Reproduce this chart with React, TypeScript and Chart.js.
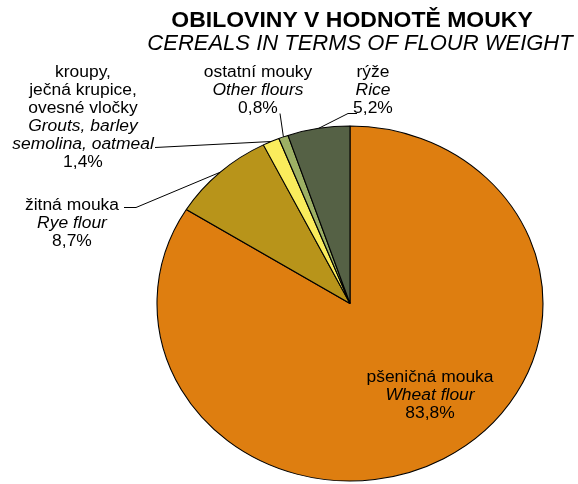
import React, { useEffect, useRef } from 'react';
import { Chart, registerables } from 'chart.js';

Chart.register(...registerables);

// ---- data ----
const titleCz = 'OBILOVINY V HODNOTĚ MOUKY';
const titleEn = 'CEREALS IN TERMS OF FLOUR WEIGHT';
const categoriesCz: string[][] = [
  ['pšeničná mouka'],
  ['žitná mouka'],
  ['kroupy,', 'ječná krupice,', 'ovesné vločky'],
  ['ostatní mouky'],
  ['rýže'],
];
const categoriesEn: string[][] = [
  ['Wheat flour'],
  ['Rye flour'],
  ['Grouts, barley', 'semolina, oatmeal'],
  ['Other flours'],
  ['Rice'],
];
const shares: number[] = [83.8, 8.7, 1.4, 0.8, 5.2];

// ---- styles / layout ----
const sliceColors = ['#DE7E10', '#B8941A', '#FAEC5C', '#9DB064', '#556145'];
const PIE_SX = 193 / 177.5; // horizontal stretch of the pie (ellipse)
const TEXT_SX = 1.09;
const LINE_H = 18;
const labelAnchors = [
  { x: 430, y: 378 },
  { x: 72, y: 206 },
  { x: 83, y: 73 },
  { x: 258, y: 73 },
  { x: 373, y: 73 },
];
const leaderStarts: ([number, number][] | null)[] = [
  null,
  [[124, 207], [136, 207]],
  [[155, 147]],
  [[280, 113]],
  [[357, 113], [348, 113]],
];

const fmt = (v: number) => v.toFixed(1).replace('.', ',') + '%';

function drawStretched(ctx: CanvasRenderingContext2D, text: string, x: number, y: number, sx: number) {
  ctx.save();
  ctx.translate(x, y);
  ctx.scale(sx, 1);
  ctx.fillText(text, 0, 0);
  ctx.restore();
}

const ellipsePlugin = {
  id: 'ellipsePie',
  beforeDatasetsDraw(chart: any) {
    const meta = chart.getDatasetMeta(0);
    const cx = meta.data[0].x;
    const ctx = chart.ctx;
    ctx.save();
    ctx.translate(cx, 0);
    ctx.scale(PIE_SX, 1);
    ctx.translate(-cx, 0);
  },
  afterDatasetsDraw(chart: any) {
    chart.ctx.restore();
  },
  afterDraw(chart: any) {
    const ctx: CanvasRenderingContext2D = chart.ctx;
    const meta = chart.getDatasetMeta(0);
    ctx.save();
    // titles
    ctx.fillStyle = '#000';
    ctx.textAlign = 'center';
    ctx.textBaseline = 'alphabetic';
    ctx.font = 'bold 22px "Liberation Sans", Arial, sans-serif';
    drawStretched(ctx, titleCz, 352, 27, 1.045);
    ctx.font = 'italic 22px "Liberation Sans", Arial, sans-serif';
    drawStretched(ctx, titleEn, 360, 50, 1.0);

    // leader lines
    ctx.strokeStyle = '#000';
    ctx.lineWidth = 1;
    meta.data.forEach((arc: any, i: number) => {
      const pts = leaderStarts[i];
      if (!pts) return;
      const mid = (arc.startAngle + arc.endAngle) / 2;
      const ex = arc.x + PIE_SX * arc.outerRadius * Math.cos(mid);
      const ey = arc.y + arc.outerRadius * Math.sin(mid);
      ctx.beginPath();
      ctx.moveTo(pts[0][0], pts[0][1] + 0.5);
      for (let k = 1; k < pts.length; k++) ctx.lineTo(pts[k][0], pts[k][1] + 0.5);
      ctx.lineTo(ex, ey);
      ctx.stroke();
    });

    // labels
    ctx.textBaseline = 'middle';
    shares.forEach((v, i) => {
      const a = labelAnchors[i];
      let y = a.y;
      ctx.font = '16px "Liberation Sans", Arial, sans-serif';
      categoriesCz[i].forEach((t) => {
        drawStretched(ctx, t, a.x, y, TEXT_SX);
        y += LINE_H;
      });
      ctx.font = 'italic 16px "Liberation Sans", Arial, sans-serif';
      categoriesEn[i].forEach((t) => {
        drawStretched(ctx, t, a.x, y, TEXT_SX);
        y += LINE_H;
      });
      ctx.font = '16px "Liberation Sans", Arial, sans-serif';
      drawStretched(ctx, fmt(v), a.x, y, TEXT_SX);
    });
    ctx.restore();
  },
};

export default function App() {
  const ref = useRef<HTMLCanvasElement | null>(null);
  useEffect(() => {
    if (!ref.current) return;
    const chart = new Chart(ref.current, {
      type: 'pie',
      data: {
        labels: categoriesEn.map((l) => l.join(' ')),
        datasets: [
          {
            data: shares,
            backgroundColor: sliceColors,
            borderColor: '#000000',
            borderWidth: 1,
          },
        ],
      },
      options: {
        responsive: false,
        animation: false,
        radius: 177.5,
        layout: { padding: { left: 150, right: 28, top: 123, bottom: 0 } },
        plugins: {
          legend: { display: false },
          title: { display: false },
          tooltip: { enabled: false },
        },
      } as any,
      plugins: [ellipsePlugin],
    });
    return () => chart.destroy();
  }, []);
  return (
    <div style={{ position: 'fixed', left: 0, top: 0, width: 578, height: 484, background: '#fff' }}>
      <canvas ref={ref} width={578} height={484} style={{ display: 'block', width: 578, height: 484 }} />
    </div>
  );
}
